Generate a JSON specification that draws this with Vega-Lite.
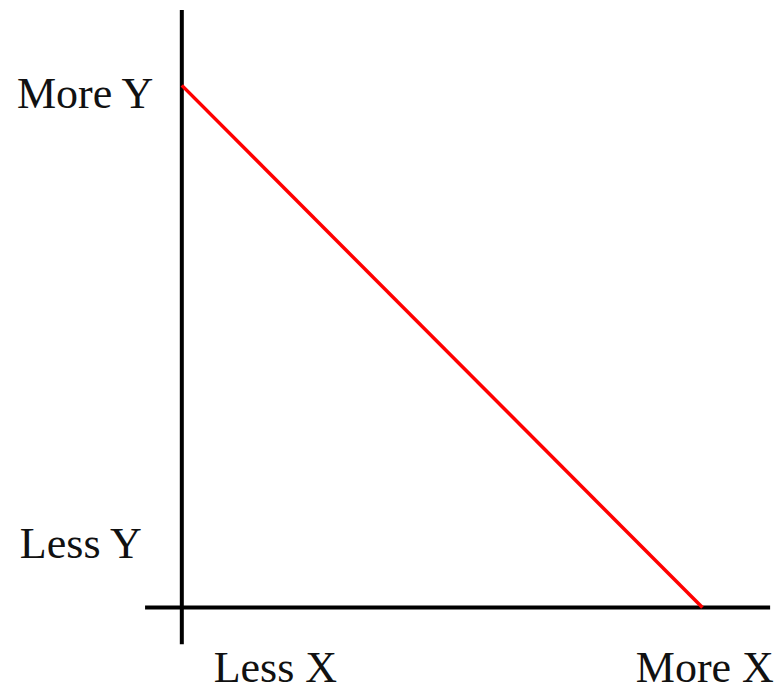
{
  "$schema": "https://vega.github.io/schema/vega-lite/v6.json",
  "width": 774,
  "height": 692,
  "autosize": {"type": "fit", "contains": "padding"},
  "padding": 0,
  "background": "white",
  "config": {"view": {"stroke": null}},
  "datasets": {
    "axes": [
      {"name": "yaxis", "x": 0, "x2": 0, "y": -0.703, "y2": 11.445},
      {"name": "xaxis", "x": -0.706, "x2": 11.3, "y": 0, "y2": 0}
    ],
    "line": [
      {"x": 0, "y": 10},
      {"x": 10, "y": 0}
    ],
    "labels": [
      {"label": "More Y", "x": -3.168, "y": 9.56},
      {"label": "Less Y", "x": -3.111, "y": 0.95},
      {"label": "Less X", "x": 0.611, "y": -1.426},
      {"label": "More X", "x": 8.72, "y": -1.426}
    ]
  },
  "layer": [
    {
      "data": {"name": "axes"},
      "mark": {"type": "rule", "color": "black", "strokeWidth": 4},
      "encoding": {
        "x": {"field": "x", "type": "quantitative", "axis": null, "scale": {"domain": [-3.4924, 11.2786], "nice": false, "zero": false}},
        "x2": {"field": "x2"},
        "y": {"field": "y", "type": "quantitative", "axis": null, "scale": {"domain": [-1.5209, 11.635], "nice": false, "zero": false}},
        "y2": {"field": "y2"}
      }
    },
    {
      "data": {"name": "line"},
      "mark": {"type": "line", "color": "#ff0000", "strokeWidth": 3.5},
      "encoding": {
        "x": {"field": "x", "type": "quantitative"},
        "y": {"field": "y", "type": "quantitative"}
      }
    },
    {
      "data": {"name": "labels"},
      "mark": {"type": "text", "align": "left", "baseline": "alphabetic", "font": "Liberation Serif", "fontSize": 44, "color": "#111111"},
      "encoding": {
        "x": {"field": "x", "type": "quantitative"},
        "y": {"field": "y", "type": "quantitative"},
        "text": {"field": "label", "type": "nominal"}
      }
    }
  ]
}
